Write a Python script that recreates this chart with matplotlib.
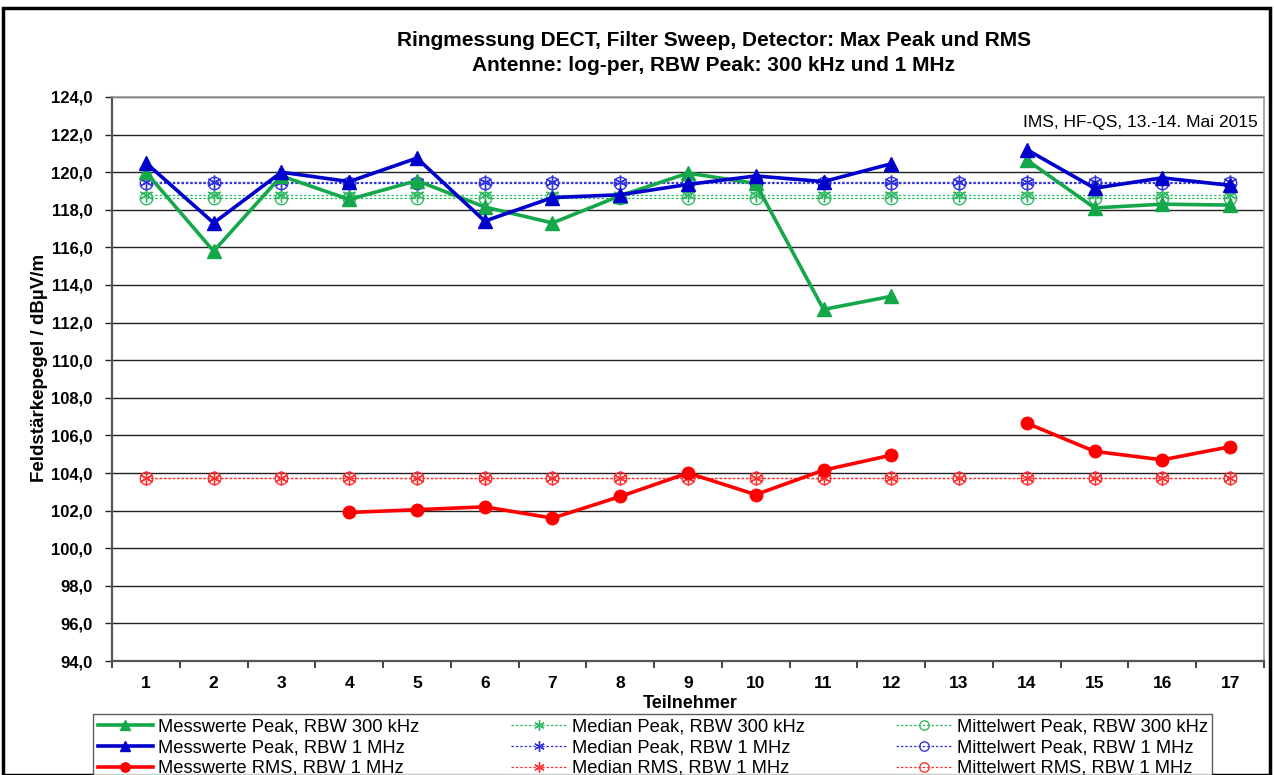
import matplotlib
matplotlib.use("Agg")
import matplotlib.pyplot as plt
import numpy as np
from matplotlib.patches import Rectangle
from matplotlib.ticker import FuncFormatter, FixedLocator

plt.rcParams['font.family'] = ['Liberation Sans', 'DejaVu Sans']

teilnehmer = list(range(1, 18))
nan = np.nan
peak_300k = [120.0, 115.8, 119.8, 118.55, 119.55, 118.15, 117.3, 118.75, 119.95,
             119.4, 112.7, 113.4, nan, 120.65, 118.1, 118.3, 118.25]
peak_1m = [120.5, 117.3, 120.0, 119.5, 120.75, 117.4, 118.65, 118.8, 119.35,
           119.8, 119.5, 120.45, nan, 121.2, 119.15, 119.7, 119.3]
rms_1m = [nan, nan, nan, 101.9, 102.05, 102.2, 101.6, 102.75, 104.0,
          102.85, 104.15, 104.95, nan, 106.65, 105.15, 104.7, 105.4]
median_peak_300k = 118.8
mittel_peak_300k = 118.65
median_peak_1m = 119.5
mittel_peak_1m = 119.45
median_rms_1m = 103.75
mittel_rms_1m = 103.72

title = "Ringmessung DECT, Filter Sweep, Detector: Max Peak und RMS\nAntenne: log-per, RBW Peak: 300 kHz und 1 MHz"
note = "IMS, HF-QS, 13.-14. Mai 2015"

W, H = 1274, 775
fig = plt.figure(figsize=(W / 100, H / 100), dpi=100)
ax = fig.add_axes([112 / W, 1 - 661 / H, (1264 - 112) / W, (661 - 97) / H])

green = '#14A84A'
blue = '#0000CC'
red = '#FF0000'
x = np.array(teilnehmer)

def const(v):
    return [v] * len(teilnehmer)

ax.plot(x, peak_300k, color=green, lw=2.6, marker='^', ms=10, zorder=5,
        label='Messwerte Peak, RBW 300 kHz')
ax.plot(x, peak_1m, color=blue, lw=2.6, marker='^', ms=10, zorder=6,
        label='Messwerte Peak, RBW 1 MHz')
ax.plot(x, rms_1m, color=red, lw=2.6, marker='o', ms=9, zorder=6,
        label='Messwerte RMS, RBW 1 MHz')

lite_green = '#33B866'
lite_blue = '#3333DD'
lite_red = '#FF3333'
ax.plot(x, const(median_peak_300k), color=lite_green, lw=0.9, ls=(0, (2, 1.5)),
        marker=(6, 2, 0), ms=10, mew=1.0, zorder=3, label='Median Peak, RBW 300 kHz')
ax.plot(x, const(median_peak_1m), color=lite_blue, lw=0.9, ls=(0, (2, 1.5)),
        marker=(6, 2, 0), ms=10, mew=1.0, zorder=3, label='Median Peak, RBW 1 MHz')
ax.plot(x, const(median_rms_1m), color=lite_red, lw=0.9, ls=(0, (2, 1.5)),
        marker=(6, 2, 0), ms=10, mew=1.0, zorder=3, label='Median RMS, RBW 1 MHz')
ax.plot(x, const(mittel_peak_300k), color=lite_green, lw=0.9, ls=(0, (2, 1.5)),
        marker='o', ms=9, mfc='none', mew=1.0, zorder=3, label='Mittelwert Peak, RBW 300 kHz')
ax.plot(x, const(mittel_peak_1m), color=lite_blue, lw=0.9, ls=(0, (2, 1.5)),
        marker='o', ms=9, mfc='none', mew=1.0, zorder=3, label='Mittelwert Peak, RBW 1 MHz')
ax.plot(x, const(mittel_rms_1m), color=lite_red, lw=0.9, ls=(0, (2, 1.5)),
        marker='o', ms=9, mfc='none', mew=1.0, zorder=3, label='Mittelwert RMS, RBW 1 MHz')

ax.set_xlim(0.5, 17.5)
ax.set_ylim(94, 124)
ax.set_yticks(np.arange(94, 124.1, 2))
ax.yaxis.set_major_formatter(FuncFormatter(lambda v, p: f"{v:.1f}".replace('.', ',')))
ax.set_xticks(x)
ax.set_xticklabels([str(t) for t in teilnehmer], fontweight='bold', fontsize=12.5)
ax.xaxis.set_minor_locator(FixedLocator(np.arange(0.5, 17.6, 1)))
ax.tick_params(axis='x', which='major', length=0, pad=11)
ax.tick_params(axis='x', which='minor', length=5, width=1.2, color='#222222')
ax.tick_params(axis='y', length=5, width=1, color='#222222', labelsize=12, pad=9)
for lab in ax.get_yticklabels():
    lab.set_fontweight('bold')
ax.grid(axis='y', color='#222222', lw=1.0)
ax.set_axisbelow(True)
for s in ['left', 'bottom']:
    ax.spines[s].set_color('#555555')
    ax.spines[s].set_linewidth(1.6)
for s in ['top', 'right']:
    ax.spines[s].set_color('#999999')
    ax.spines[s].set_linewidth(1.2)

ax.set_ylabel('Feldstärkepegel / dBµV/m', fontweight='bold', fontsize=13.5)
ax.yaxis.set_label_coords(-(112 - 48) / (1264 - 112), (661 - 368) / (661 - 97))
ax.set_xlabel('Teilnehmer', fontweight='bold', fontsize=13)
ax.xaxis.set_label_coords((690 - 112) / (1264 - 112), -(703 - 661) / (661 - 97))
ax.xaxis.label.set_va('center')

fig.text(714 / W, 1 - 53 / H, title, ha='center', va='center', fontsize=15,
         fontweight='bold', linespacing=1.38)
ax.text(1258 / W, 1 - 122 / H, note, transform=fig.transFigure, ha='right',
        va='center', fontsize=12.5)

handles, labels = ax.get_legend_handles_labels()
leg = fig.legend(handles, labels, ncol=3, loc='upper left',
                 bbox_to_anchor=(93 / W, 1 - 714 / H), frameon=True, fancybox=False,
                 edgecolor='#333333', fontsize=13.2, handlelength=3.0,
                 borderaxespad=0, columnspacing=5.0, labelspacing=0.2,
                 handletextpad=0.3, borderpad=0.25, markerscale=0.75)
leg.get_frame().set_linewidth(1.0)

fig.patches.append(Rectangle((3 / W, 0), (1270 - 3) / W, 1 - 8 / H,
                             transform=fig.transFigure, fill=False,
                             edgecolor='black', lw=2.5))

fig.savefig('out.png', dpi=100)
